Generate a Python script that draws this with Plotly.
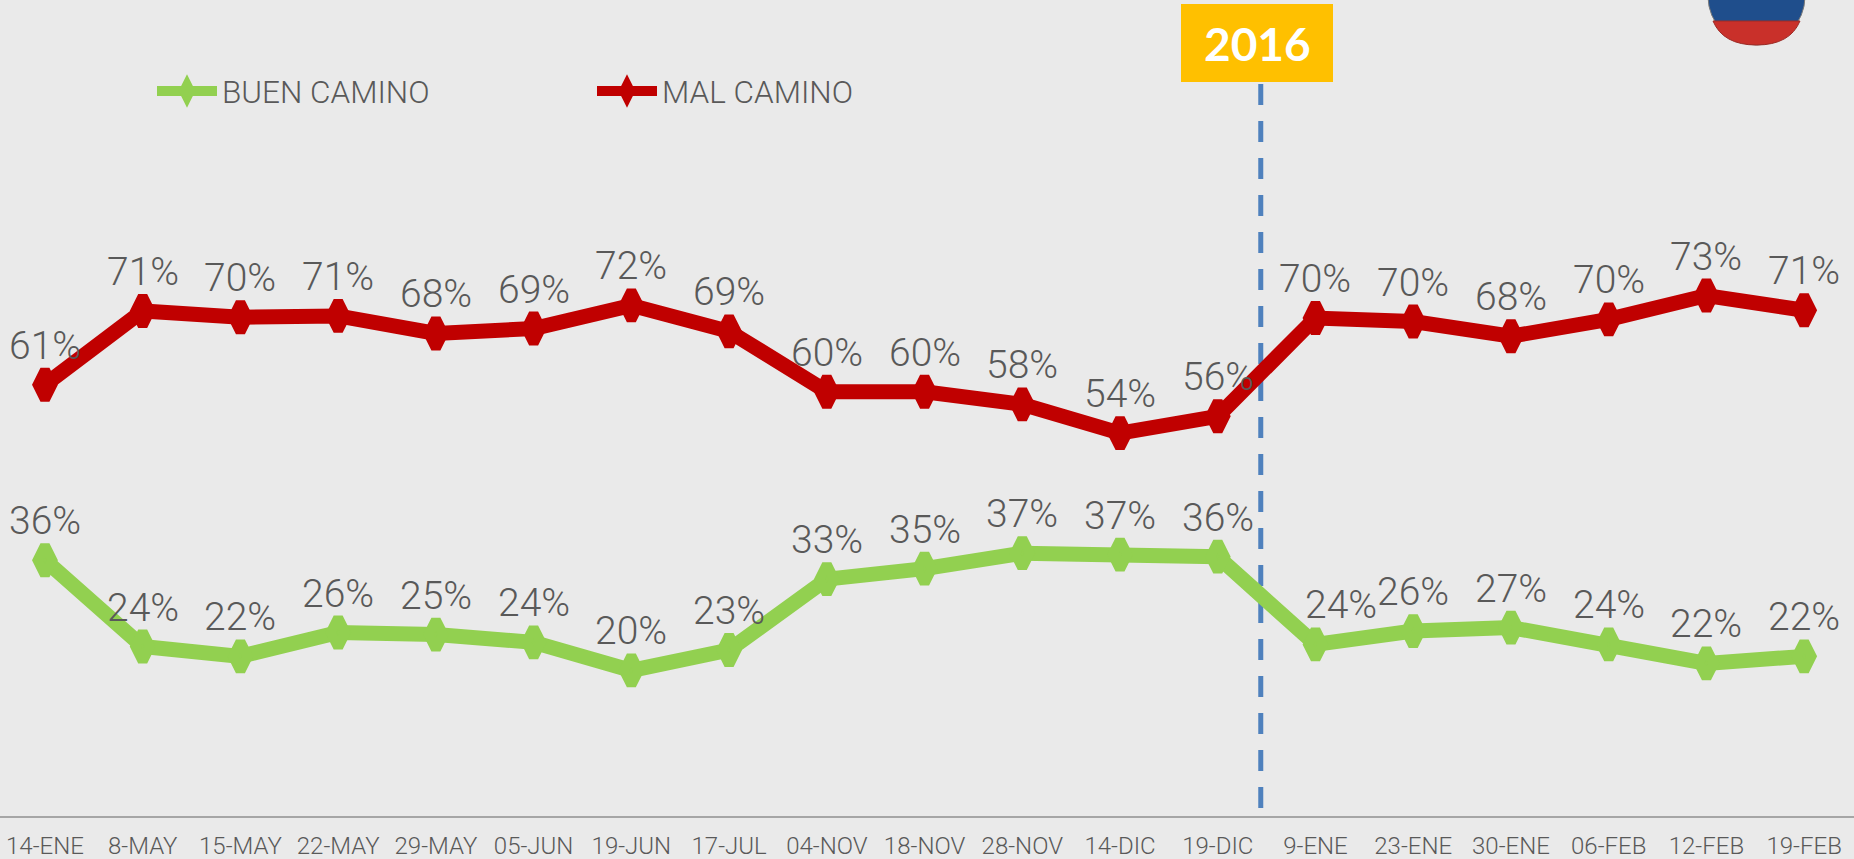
import plotly.graph_objects as go

categories = ["14-ENE","8-MAY","15-MAY","22-MAY","29-MAY","05-JUN","19-JUN","17-JUL","04-NOV","18-NOV",
              "28-NOV","14-DIC","19-DIC","9-ENE","23-ENE","30-ENE","06-FEB","12-FEB","19-FEB"]
buen_camino = [35.7,23.4,22.0,25.4,25.1,24.0,20.0,22.9,33.0,34.5,36.7,36.5,36.2,23.7,25.6,26.1,23.7,21.0,22.0]
mal_camino = [60.7,71.2,70.3,70.5,68.0,68.7,72.0,68.3,59.7,59.7,57.9,53.8,56.2,70.2,69.7,67.6,70.0,73.4,71.3]
buen_labels = ["36%","24%","22%","26%","25%","24%","20%","23%","33%","35%","37%","37%","36%","24%","26%","27%","24%","22%","22%"]
mal_labels = ["61%","71%","70%","71%","68%","69%","72%","69%","60%","60%","58%","54%","56%","70%","70%","68%","70%","73%","71%"]

W, H = 1854, 859
BG = "#EAEAEA"
TXT = "#595959"
FONT = "Roboto"
GREEN, RED = "#92D050", "#C00000"
xs = list(range(len(categories)))

def px(x): return x / W
def py(y): return 1 - y / (H - 43)   # paper coords over plot area

fig = go.Figure()
for name, vals, col in [("BUEN CAMINO", buen_camino, GREEN), ("MAL CAMINO", mal_camino, RED)]:
    fig.add_trace(go.Scatter(
        x=xs, y=vals, name=name, mode="lines+markers", cliponaxis=False,
        line=dict(color=col, width=15),
        marker=dict(symbol="diamond-tall", size=21, color=col, line=dict(color=col, width=10)),
    ))

anns = []
for vals, labels in [(buen_camino, buen_labels), (mal_camino, mal_labels)]:
    for i, (v, t) in enumerate(zip(vals, labels)):
        anns.append(dict(x=i, y=v, text=t, showarrow=False, yshift=39,
                         xshift=26 if (labels is buen_labels and i == 13) else 0,
                         font=dict(family=FONT, size=39, weight=300, color=TXT)))
anns.append(dict(xref="paper", yref="paper", x=px(1257), y=py(43), text="<b>2016</b>", showarrow=False,
                 xanchor="center", yanchor="middle",
                 font=dict(family="Lato", size=46, color="white")))

shapes = [
    dict(type="line", xref="x", yref="paper", x0=12.44, x1=12.44, y0=py(808), y1=py(82), layer="below",
         line=dict(color="#4F81BD", width=5, dash="21px,16px")),
    dict(type="rect", xref="paper", yref="paper", x0=px(1181), x1=px(1333), y0=py(82), y1=py(4),
         fillcolor="#FFC000", line=dict(width=0)),
    dict(type="circle", xref="paper", yref="paper", x0=px(1708), x1=px(1805), y0=py(45), y1=py(-52),
         fillcolor="#1F4E8C", line=dict(color="#7A7A7A", width=1)),
    dict(type="path", xref="paper", yref="paper",
         path=f"M {px(1713)} {py(21)} L {px(1800)} {py(21)} Q {px(1790)} {py(45)} {px(1756.5)} {py(45)} "
              f"Q {px(1723)} {py(45)} {px(1713)} {py(21)} Z",
         fillcolor="#C9302A", line=dict(color="#9C2A25", width=1)),
]

fig.update_layout(
    width=W, height=H,
    margin=dict(l=0, r=0, t=0, b=43, autoexpand=False),
    paper_bgcolor=BG, plot_bgcolor=BG,
    showlegend=True,
    legend=dict(orientation="h", x=px(152), y=py(91), xanchor="left", yanchor="middle",
                bgcolor="rgba(0,0,0,0)", itemwidth=60, entrywidth=365, entrywidthmode="pixels",
                font=dict(family=FONT, size=31.5, weight=300, color=TXT), itemclick=False),
    xaxis=dict(type="linear", range=[-0.46, 18.51], tickmode="array", tickvals=xs, ticktext=categories,
               showgrid=False, zeroline=False, showline=True, linecolor="#A6A6A6", linewidth=2,
               ticks="", ticklabelstandoff=7, tickfont=dict(family=FONT, size=24, weight=300, color=TXT)),
    yaxis=dict(range=[-0.74, 115.5], visible=False, showgrid=False, zeroline=False),
    annotations=anns, shapes=shapes,
)
fig.write_html("out.html", config=dict(displayModeBar=False),
               post_script="document.body.style.margin='0';document.body.style.background='#EAEAEA';document.body.style.overflow='hidden';")
